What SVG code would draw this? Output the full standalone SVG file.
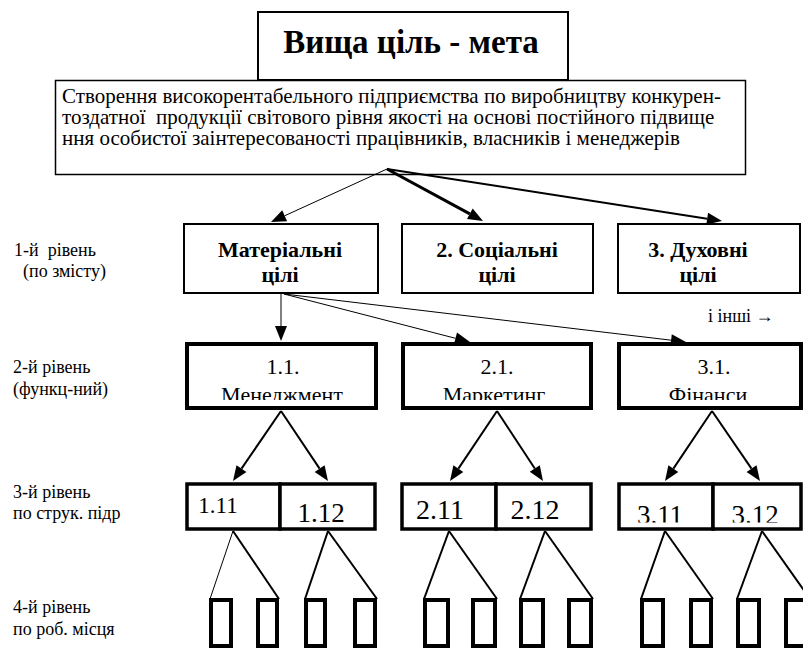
<svg xmlns="http://www.w3.org/2000/svg" width="803" height="649" viewBox="0 0 803 649">
<rect width="803" height="649" fill="#fff"/>

<!-- level captions on the left -->
<g id="captions">
<text font-family="Liberation Serif" font-size="18" x="14" y="256">1-й&#160; рівень</text>
<text font-family="Liberation Serif" font-size="18" x="23" y="277">(по змісту)</text>
<text font-family="Liberation Serif" font-size="18" x="13" y="373">2-й рівень</text>
<text font-family="Liberation Serif" font-size="18" x="13" y="395">(функц-ний)</text>
<text font-family="Liberation Serif" font-size="18" x="13" y="498">3-й рівень</text>
<text font-family="Liberation Serif" font-size="18" x="13" y="519">по струк. підр</text>
<text font-family="Liberation Serif" font-size="18" x="13" y="613">4-й рівень</text>
<text font-family="Liberation Serif" font-size="18" x="13" y="635">по роб. місця</text>
<text font-family="Liberation Serif" font-size="18" x="708" y="322">і інші →</text>
</g>

<!-- top goal -->
<g id="top-goal">
<rect fill="#fff" stroke="#000" stroke-width="2" x="258" y="12" width="310" height="68"/>
<text font-family="Liberation Serif" x="411" y="53" font-size="33" font-weight="bold" text-anchor="middle">Вища ціль - мета</text>
</g>

<g id="mission">
<rect fill="#fff" stroke="#000" stroke-width="1.5" x="55.5" y="80.5" width="690" height="94"/>
<text font-family="Liberation Serif" font-size="21" x="62" y="103">Створення високорентабельного підприємства по виробництву конкурен-</text>
<text font-family="Liberation Serif" font-size="21" x="62" y="124">тоздатної&#160; продукції світового рівня якості на основі постійного підвище</text>
<text font-family="Liberation Serif" font-size="21" x="62" y="145">ння особистої заінтересованості працівників, власників і менеджерів</text>
</g>

<!-- level 1 -->
<g id="goal-material">
<rect fill="#fff" stroke="#000" stroke-width="2" x="184" y="224" width="194" height="69"/>
<text font-family="Liberation Serif" font-size="22" font-weight="bold" text-anchor="middle" x="280" y="257">Матеріальні</text>
<text font-family="Liberation Serif" font-size="22" font-weight="bold" text-anchor="middle" x="280" y="282">цілі</text>
</g>
<g id="goal-social">
<rect fill="#fff" stroke="#000" stroke-width="2" x="402" y="224" width="191" height="69"/>
<text font-family="Liberation Serif" font-size="22" font-weight="bold" text-anchor="middle" x="497" y="257">2. Соціальні</text>
<text font-family="Liberation Serif" font-size="22" font-weight="bold" text-anchor="middle" x="497" y="282">цілі</text>
</g>
<g id="goal-spiritual">
<rect fill="#fff" stroke="#000" stroke-width="2" x="618" y="224" width="182" height="69"/>
<text font-family="Liberation Serif" font-size="22" font-weight="bold" text-anchor="middle" x="698" y="257">3. Духовні</text>
<text font-family="Liberation Serif" font-size="22" font-weight="bold" text-anchor="middle" x="698" y="282">цілі</text>
</g>

<!-- level 2: the lower line of each label is cut off by a white band above the frame -->
<g id="func-management">
<rect fill="#fff" x="187" y="344" width="189" height="64"/>
<text font-family="Liberation Serif" font-size="22" text-anchor="middle" x="283" y="374">1.1.</text>
<text font-family="Liberation Serif" font-size="22" text-anchor="middle" x="282" y="402">Менеджмент</text>
<rect fill="#fff" x="189" y="400" width="185" height="8"/>
<rect fill="none" stroke="#000" stroke-width="4" x="187" y="344" width="189" height="64"/>
</g>
<g id="func-marketing">
<rect fill="#fff" x="403" y="344" width="188" height="64"/>
<text font-family="Liberation Serif" font-size="22" text-anchor="middle" x="497" y="374">2.1.</text>
<text font-family="Liberation Serif" font-size="22" text-anchor="middle" x="494" y="402">Маркетинг</text>
<rect fill="#fff" x="405" y="400" width="184" height="8"/>
<rect fill="none" stroke="#000" stroke-width="4" x="403" y="344" width="188" height="64"/>
</g>
<g id="func-finance">
<rect fill="#fff" x="619" y="344" width="182" height="64"/>
<text font-family="Liberation Serif" font-size="22" text-anchor="middle" x="714" y="374">3.1.</text>
<text font-family="Liberation Serif" font-size="22" text-anchor="middle" x="708" y="402">Фінанси</text>
<rect fill="#fff" x="621" y="400" width="178" height="8"/>
<rect fill="none" stroke="#000" stroke-width="4" x="619" y="344" width="182" height="64"/>
</g>

<!-- level 3 -->
<g id="unit-1-11">
<rect fill="#fff" x="187" y="484" width="93" height="45"/>
<text font-family="Liberation Serif" text-anchor="middle" x="218" y="513" font-size="23">1.11</text>
<rect fill="none" stroke="#000" stroke-width="3.5" x="187" y="484" width="93" height="45"/>
</g>
<g id="unit-1-12">
<rect fill="#fff" x="280" y="484" width="95" height="45"/>
<text font-family="Liberation Serif" text-anchor="middle" x="321" y="522" font-size="27">1.12</text>
<rect fill="#fff" x="282" y="522.5" width="91" height="5"/>
<rect fill="none" stroke="#000" stroke-width="3.5" x="280" y="484" width="95" height="45"/>
</g>
<g id="unit-2-11">
<rect fill="#fff" x="402" y="484" width="94" height="45"/>
<text font-family="Liberation Serif" text-anchor="middle" x="440" y="519" font-size="28">2.11</text>
<rect fill="none" stroke="#000" stroke-width="3.5" x="402" y="484" width="94" height="45"/>
</g>
<g id="unit-2-12">
<rect fill="#fff" x="496" y="484" width="95" height="45"/>
<text font-family="Liberation Serif" text-anchor="middle" x="535" y="519" font-size="28">2.12</text>
<rect fill="none" stroke="#000" stroke-width="3.5" x="496" y="484" width="95" height="45"/>
</g>
<g id="unit-3-11">
<rect fill="#fff" x="619" y="484" width="94" height="45"/>
<text font-family="Liberation Serif" text-anchor="middle" x="660" y="524" font-size="27">3.11</text>
<rect fill="#fff" x="621" y="522.5" width="90" height="5"/>
<rect fill="none" stroke="#000" stroke-width="3.5" x="619" y="484" width="94" height="45"/>
</g>
<g id="unit-3-12">
<rect fill="#fff" x="713" y="484" width="88" height="45"/>
<text font-family="Liberation Serif" text-anchor="middle" x="755" y="524" font-size="27">3.12</text>
<rect fill="#fff" x="715" y="522.5" width="84" height="5"/>
<rect fill="none" stroke="#000" stroke-width="3.5" x="713" y="484" width="88" height="45"/>
</g>

<!-- level 4: workplaces -->
<g id="workplaces" fill="#fff" stroke="#000" stroke-width="4">
<g id="wp-1"><rect x="211" y="600" width="20" height="46"/></g>
<g id="wp-2"><rect x="258" y="600" width="19" height="46"/></g>
<g id="wp-3"><rect x="306" y="600" width="19" height="46"/></g>
<g id="wp-4"><rect x="355" y="600" width="20" height="46"/></g>
<g id="wp-5"><rect x="425" y="600" width="23" height="46"/></g>
<g id="wp-6"><rect x="473" y="600" width="22" height="46"/></g>
<g id="wp-7"><rect x="521" y="600" width="22" height="46"/></g>
<g id="wp-8"><rect x="569" y="600" width="22" height="46"/></g>
<g id="wp-9"><rect x="642" y="600" width="21" height="46"/></g>
<g id="wp-10"><rect x="691" y="600" width="20" height="46"/></g>
<g id="wp-11"><rect x="738" y="600" width="21" height="46"/></g>
<g id="wp-12"><rect x="786" y="600" width="21" height="46"/></g>
</g>

<!-- connectors: shafts end at the base of each arrowhead -->
<g id="connectors">
<g fill="none" stroke="#000">
<path d="M387,169L284.6,215.8" stroke-width="1"/>
<path d="M387,169L469.8,213.9" stroke-width="3"/>
<path d="M387,169L707.2,218.7" stroke-width="2"/>

<path d="M281,293L281,326" stroke-width="1"/>
<path d="M284,294L455.5,338.3" stroke-width="1"/>
<path d="M284,294L671.1,340.2" stroke-width="1"/>

<path d="M281,411L241.5,468.6" stroke-width="2"/>
<path d="M281,411L319.6,468.6" stroke-width="2"/>
<path d="M497,411L458.4,468.6" stroke-width="2"/>
<path d="M497,411L534.8,468.5" stroke-width="2"/>
<path d="M712,411L673.4,468.6" stroke-width="2"/>
<path d="M712,411L751.5,468.6" stroke-width="2"/>

<path d="M233,531L210,599" stroke-width="1"/>
<path d="M233,531L279,599" stroke-width="2"/>
<path d="M328,531L305,599" stroke-width="2"/>
<path d="M328,531L377,599" stroke-width="2"/>
<path d="M449,531L424,599" stroke-width="2"/>
<path d="M449,531L497,599" stroke-width="2"/>
<path d="M545,531L520,599" stroke-width="2"/>
<path d="M545,531L593,599" stroke-width="2"/>
<path d="M665,531L641,599" stroke-width="2"/>
<path d="M665,531L713,599" stroke-width="2"/>
<path d="M762,531L737,599" stroke-width="2"/>
<path d="M762,531L810,599" stroke-width="2"/>
</g>
<g fill="#000">
<polygon points="271,222 282.2,210.3 287.1,221.2"/>
<polygon points="483,221 467,219.1 472.7,208.6"/>
<polygon points="722,221 706.3,224.6 708.1,212.8"/>
<polygon points="281,341 275,326 287,326"/>
<polygon points="470,342 454,344.1 457,332.4"/>
<polygon points="686,342 670.4,346.2 671.8,334.3"/>
<polygon points="233,481 236.5,465.2 246.4,472"/>
<polygon points="328,481 314.7,471.9 324.6,465.2"/>
<polygon points="450,481 453.4,465.2 463.3,471.9"/>
<polygon points="543,481 529.8,471.8 539.8,465.2"/>
<polygon points="665,481 668.4,465.2 678.3,471.9"/>
<polygon points="760,481 746.6,472 756.5,465.2"/>
</g>
</g>
</svg>
